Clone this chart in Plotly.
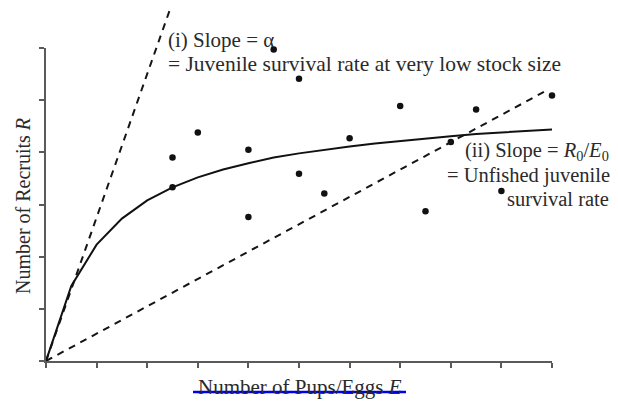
import plotly.graph_objects as go

# Observed stock-recruit data
E_obs = [2.5, 3.0, 4.0, 4.5, 5.0, 2.5, 4.0, 5.0, 5.5, 6.0, 7.0, 7.5, 8.0, 8.5, 9.0, 10.0]
R_obs = [3.90, 4.38, 4.05, 5.97, 5.41, 3.33, 2.76, 3.59, 3.21, 4.27, 4.89, 2.87, 4.20, 4.82, 3.26, 5.09]

# Fitted curve (read at 0.5 steps)
E_fit = [0, 0.5, 1.0, 1.5, 2.0, 2.5, 3.0, 3.5, 4.0, 4.5, 5.0, 5.5, 6.0, 6.5, 7.0,
         7.5, 8.0, 8.5, 9.0, 9.5, 10.0]
R_fit = [0, 1.44, 2.23, 2.73, 3.08, 3.33, 3.52, 3.67, 3.79, 3.90, 3.98, 4.05, 4.11,
         4.17, 4.22, 4.27, 4.31, 4.35, 4.38, 4.41, 4.44]

# Slope lines
E_slope_i = [0, 2.45]
R_slope_i = [0, 6.74]
E_slope_ii = [0, 9.9]
R_slope_ii = [0, 5.19]

x_ticks = list(range(0, 11))
y_ticks = list(range(0, 7))

OFF = 8  # page body margin
W, H = 610, 396
X0, X1 = 46, 552      # screen px of x=0 and x=10
Y0, Y6 = 361, 48      # screen px of y=0 and y=6
TOP = 9               # screen px of plot top
ml = X0 - OFF
mr = W - (X1 - OFF)
mt = TOP - OFF
mb = H - (Y0 - OFF)
plot_w = W - ml - mr
plot_h = H - mt - mb
px_per_unit = (Y0 - Y6) / 6.0
y2_top = plot_h / px_per_unit
dom_top = 6.0 / y2_top


def px(sx):
    return (sx - X0) / plot_w


def py(sy):
    return (Y0 - sy) / plot_h


FONT = "Liberation Serif"
TXT = "#2a2a2a"
AX = "#5a5a5a"
DASH = dict(color="#151515", width=2, dash="7px,6px")

fig = go.Figure()
fig.add_trace(go.Scatter(x=E_slope_i, y=R_slope_i, mode="lines", yaxis="y2",
                         line=DASH, showlegend=False))
fig.add_trace(go.Scatter(x=E_slope_ii, y=R_slope_ii, mode="lines", yaxis="y2",
                         line=DASH, showlegend=False))
fig.add_trace(go.Scatter(x=E_fit, y=R_fit, mode="lines", yaxis="y2",
                         line=dict(color="#111111", width=2), showlegend=False))
fig.add_trace(go.Scatter(x=E_obs, y=R_obs, mode="markers", yaxis="y", cliponaxis=False,
                         marker=dict(color="#111111", size=6.5), showlegend=False))

fig.update_layout(
    width=W, height=H,
    margin=dict(l=ml, r=mr, t=mt, b=mb),
    plot_bgcolor="rgba(0,0,0,0)", paper_bgcolor="white",
    font=dict(family=FONT, color=TXT, size=21),
    xaxis=dict(range=[0, 10], tickvals=x_ticks, showticklabels=False, ticks="outside",
               ticklen=5, tickcolor=AX, tickwidth=1.5, showline=True, linecolor=AX, linewidth=2,
               showgrid=False, zeroline=False),
    yaxis=dict(range=[0, 6], domain=[0, dom_top], tickvals=y_ticks, showticklabels=False,
               ticks="outside", ticklen=5, tickcolor=AX, tickwidth=1.5, showline=True,
               linecolor=AX, linewidth=2, showgrid=False, zeroline=False),
    yaxis2=dict(range=[0, y2_top], domain=[0, 1], anchor="x", visible=False,
                showgrid=False, zeroline=False),
)

fig.add_annotation(xref="paper", yref="paper", x=px(300), y=py(387),
                   text="Number of Pups/Eggs <i>E</i>", showarrow=False,
                   font=dict(size=21, family=FONT, color=TXT), xanchor="center", yanchor="middle")
fig.add_annotation(xref="paper", yref="paper", x=px(23), y=py(206),
                   text="Number of Recruits <i>R</i>", showarrow=False, textangle=-90,
                   font=dict(size=20, family=FONT, color=TXT), xanchor="center", yanchor="middle")

fig.add_annotation(xref="paper", yref="paper", x=px(166), y=py(40),
                   text="(i) Slope = α", showarrow=False, xanchor="left", yanchor="middle",
                   font=dict(size=21, family=FONT, color=TXT))
fig.add_annotation(xref="paper", yref="paper", x=px(166), y=py(64),
                   text="= Juvenile survival rate at very low stock size", showarrow=False,
                   xanchor="left", yanchor="middle", font=dict(size=21.5, family=FONT, color=TXT))
fig.add_annotation(xref="paper", yref="paper", x=px(611), y=py(151),
                   text="(ii) Slope = <i>R</i><sub>0</sub>/<i>E</i><sub>0</sub>", showarrow=False,
                   xanchor="right", yanchor="middle", font=dict(size=20.5, family=FONT, color=TXT))
fig.add_annotation(xref="paper", yref="paper", x=px(612), y=py(175),
                   text="= Unfished juvenile", showarrow=False,
                   xanchor="right", yanchor="middle", font=dict(size=20.5, family=FONT, color=TXT))
fig.add_annotation(xref="paper", yref="paper", x=px(611), y=py(199),
                   text="survival rate", showarrow=False,
                   xanchor="right", yanchor="middle", font=dict(size=20.5, family=FONT, color=TXT))

# blue strike line through x title
fig.add_shape(type="line", xref="paper", yref="paper",
              x0=px(193), x1=px(406), y0=py(392), y1=py(392),
              line=dict(color="#0000ee", width=2.5))

fig.write_html("out.html")
